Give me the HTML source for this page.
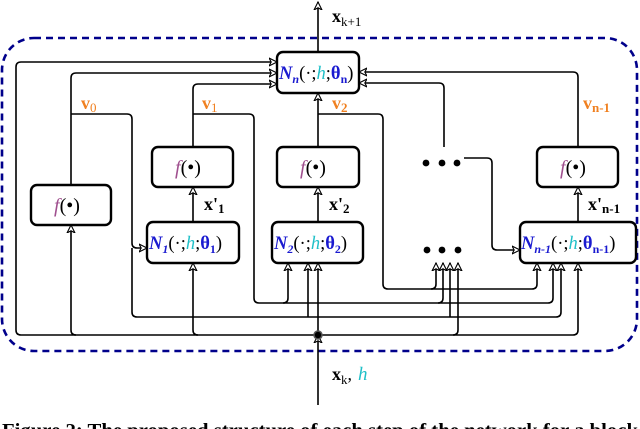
<!DOCTYPE html>
<html><head><meta charset="utf-8"><style>
html,body{margin:0;padding:0;background:#fff;overflow:hidden;}
svg{display:block;}
text{font-family:"Liberation Serif",serif;}
.b{fill:#fff;stroke:#000;stroke-width:2.4;}
.l{fill:none;stroke:#000;stroke-width:1.6;stroke-linejoin:round;}
.bt{font-size:18.5px;}
.N{fill:#1a1ad0;font-weight:bold;font-style:italic;}
.h{fill:#20c0c8;font-style:italic;}
.t{fill:#1a1ad0;font-weight:bold;}
.f{fill:#a0508f;font-style:italic;font-size:20px;}
.v{fill:#f08020;font-weight:bold;font-size:18px;}
.x{font-weight:bold;font-size:18px;}
</style></head><body>
<svg width="640" height="429" viewBox="0 0 640 429" xmlns="http://www.w3.org/2000/svg">
<defs><marker id="a" markerWidth="9" markerHeight="9" refX="8" refY="4.5" orient="auto" markerUnits="userSpaceOnUse"><path d="M0,0.5 L8,4.5 L0,8.5 L2.2,4.5 Z" fill="#fff" stroke="#000" stroke-width="1.1"/></marker></defs>
<rect x="2" y="38" width="635" height="313" rx="32" fill="none" stroke="#00008b" stroke-width="2.6" stroke-dasharray="7,5"/>
<path class="l" d="M318,52 V2" marker-end="url(#a)"/>
<path class="l" d="M318,335 L21,335 Q16,335 16,330 V67 Q16,62 21,62 H277" marker-end="url(#a)"/>
<path class="l" d="M71,185 V78 Q71,73 76,73 H277" marker-end="url(#a)"/>
<path class="l" d="M193,147 V89 Q193,84 198,84 H277" marker-end="url(#a)"/>
<path class="l" d="M578,147 V77 Q578,72 573,72 H359" marker-end="url(#a)"/>
<path class="l" d="M444,147 V88 Q444,83 439,83 H359" marker-end="url(#a)"/>
<path class="l" d="M318,147 V93" marker-end="url(#a)"/>
<path class="l" d="M71,114 H127 Q132,114 132,119 V243 Q132,248 137,248 H147" marker-end="url(#a)"/>
<path class="l" d="M132,248 V312 Q132,317 137,317 H556 Q561,317 561,312 V263" marker-end="url(#a)"/>
<path class="l" d="M308,317 V263" marker-end="url(#a)"/>
<path class="l" d="M450,317 V263" marker-end="url(#a)"/>
<path class="l" d="M193,114 H249 Q254,114 254,119 V298 Q254,303 259,303 H548 Q553,303 553,298 V263" marker-end="url(#a)"/>
<path class="l" d="M283,303 Q288,303 288,298 V263" marker-end="url(#a)"/>
<path class="l" d="M438,303 Q443,303 443,298 V263" marker-end="url(#a)"/>
<path class="l" d="M318,114 H378 Q383,114 383,119 V284 Q383,289 388,289 H532 Q537,289 537,284 V263" marker-end="url(#a)"/>
<path class="l" d="M431,289 Q436,289 436,284 V263" marker-end="url(#a)"/>
<path class="l" d="M464,158 H487 Q492,158 492,163 V245 Q492,250 497,250 H520" marker-end="url(#a)"/>
<path class="l" d="M318,335 H573 Q578,335 578,330 V263" marker-end="url(#a)"/>
<path class="l" d="M76,335 Q71,335 71,330 V225" marker-end="url(#a)"/>
<path class="l" d="M198,335 Q193,335 193,330 V263" marker-end="url(#a)"/>
<path class="l" d="M453,335 Q458,335 458,330 V263" marker-end="url(#a)"/>
<path class="l" d="M318,405 V335" marker-end="url(#a)"/>
<path class="l" d="M318,335 V263" marker-end="url(#a)"/>
<path class="l" d="M193,222 V187" marker-end="url(#a)"/>
<path class="l" d="M318,222 V187" marker-end="url(#a)"/>
<path class="l" d="M578,222 V187" marker-end="url(#a)"/>
<circle cx="318" cy="335" r="4" fill="#000" stroke="#555" stroke-width="1.5"/>
<rect class="b" x="277" y="52" width="82" height="41" rx="6"/>
<text class="bt" x="279" y="79"><tspan class="N">N</tspan><tspan class="N" font-size="12" dy="4">n</tspan><tspan dy="-4">(·;</tspan><tspan class="h">h</tspan><tspan>;</tspan><tspan class="t">θ</tspan><tspan class="t" font-size="12" dy="4">n</tspan><tspan dy="-4">)</tspan></text>
<rect class="b" x="31" y="185" width="80" height="40" rx="6"/>
<text x="54" y="212"><tspan class="f">f</tspan><tspan font-size="20">(•)</tspan></text>
<rect class="b" x="152" y="147" width="81" height="40" rx="6"/>
<text x="175" y="174"><tspan class="f">f</tspan><tspan font-size="20">(•)</tspan></text>
<rect class="b" x="277" y="147" width="82" height="40" rx="6"/>
<text x="300" y="174"><tspan class="f">f</tspan><tspan font-size="20">(•)</tspan></text>
<rect class="b" x="537" y="147" width="81" height="40" rx="6"/>
<text x="560" y="174"><tspan class="f">f</tspan><tspan font-size="20">(•)</tspan></text>
<rect class="b" x="147" y="222" width="92" height="41" rx="6"/>
<text class="bt" x="149" y="249"><tspan class="N">N</tspan><tspan class="N" font-size="12" dy="4">1</tspan><tspan dy="-4">(·;</tspan><tspan class="h">h</tspan><tspan>;</tspan><tspan class="t">θ</tspan><tspan class="t" font-size="12" dy="4">1</tspan><tspan dy="-4">)</tspan></text>
<rect class="b" x="272" y="222" width="91" height="41" rx="6"/>
<text class="bt" x="274" y="249"><tspan class="N">N</tspan><tspan class="N" font-size="12" dy="4">2</tspan><tspan dy="-4">(·;</tspan><tspan class="h">h</tspan><tspan>;</tspan><tspan class="t">θ</tspan><tspan class="t" font-size="12" dy="4">2</tspan><tspan dy="-4">)</tspan></text>
<rect class="b" x="520" y="222" width="116" height="41" rx="6"/>
<text class="bt" x="521" y="249"><tspan class="N">N</tspan><tspan class="N" font-size="12" dy="4">n-1</tspan><tspan dy="-4">(·;</tspan><tspan class="h">h</tspan><tspan>;</tspan><tspan class="t">θ</tspan><tspan class="t" font-size="12" dy="4">n-1</tspan><tspan dy="-4">)</tspan></text>
<g fill="#000"><circle cx="426" cy="163" r="3.4"/><circle cx="442" cy="163" r="3.4"/><circle cx="457" cy="163" r="3.4"/>
<circle cx="427" cy="250" r="3.4"/><circle cx="442" cy="250" r="3.4"/><circle cx="458" cy="250" r="3.4"/></g>
<text class="v" x="81" y="109">v<tspan font-size="13" dy="3" font-weight="normal">0</tspan></text>
<text class="v" x="202" y="109">v<tspan font-size="13" dy="3" font-weight="normal">1</tspan></text>
<text class="v" x="332" y="109">v<tspan font-size="13" dy="3">2</tspan></text>
<text class="v" x="583" y="109">v<tspan font-size="13" dy="3">n-1</tspan></text>
<text class="x" x="204" y="210">x'<tspan font-size="13" dy="3">1</tspan></text>
<text class="x" x="329" y="210">x'<tspan font-size="13" dy="3">2</tspan></text>
<text class="x" x="588" y="210">x'<tspan font-size="13" dy="3">n-1</tspan></text>
<text class="x" x="332" y="22">x<tspan font-size="13" dy="4" font-weight="normal">k+1</tspan></text>
<text class="x" x="332" y="380">x<tspan font-size="13" dy="4" font-weight="normal">k</tspan><tspan dy="-4" font-weight="normal">,</tspan><tspan class="h" font-weight="normal" font-size="19" dx="6">h</tspan></text>
<text x="2" y="437" font-size="20" font-weight="bold" textLength="636" lengthAdjust="spacingAndGlyphs">Figure 2: The proposed structure of each step of the network for a block</text>
</svg>
</body></html>
